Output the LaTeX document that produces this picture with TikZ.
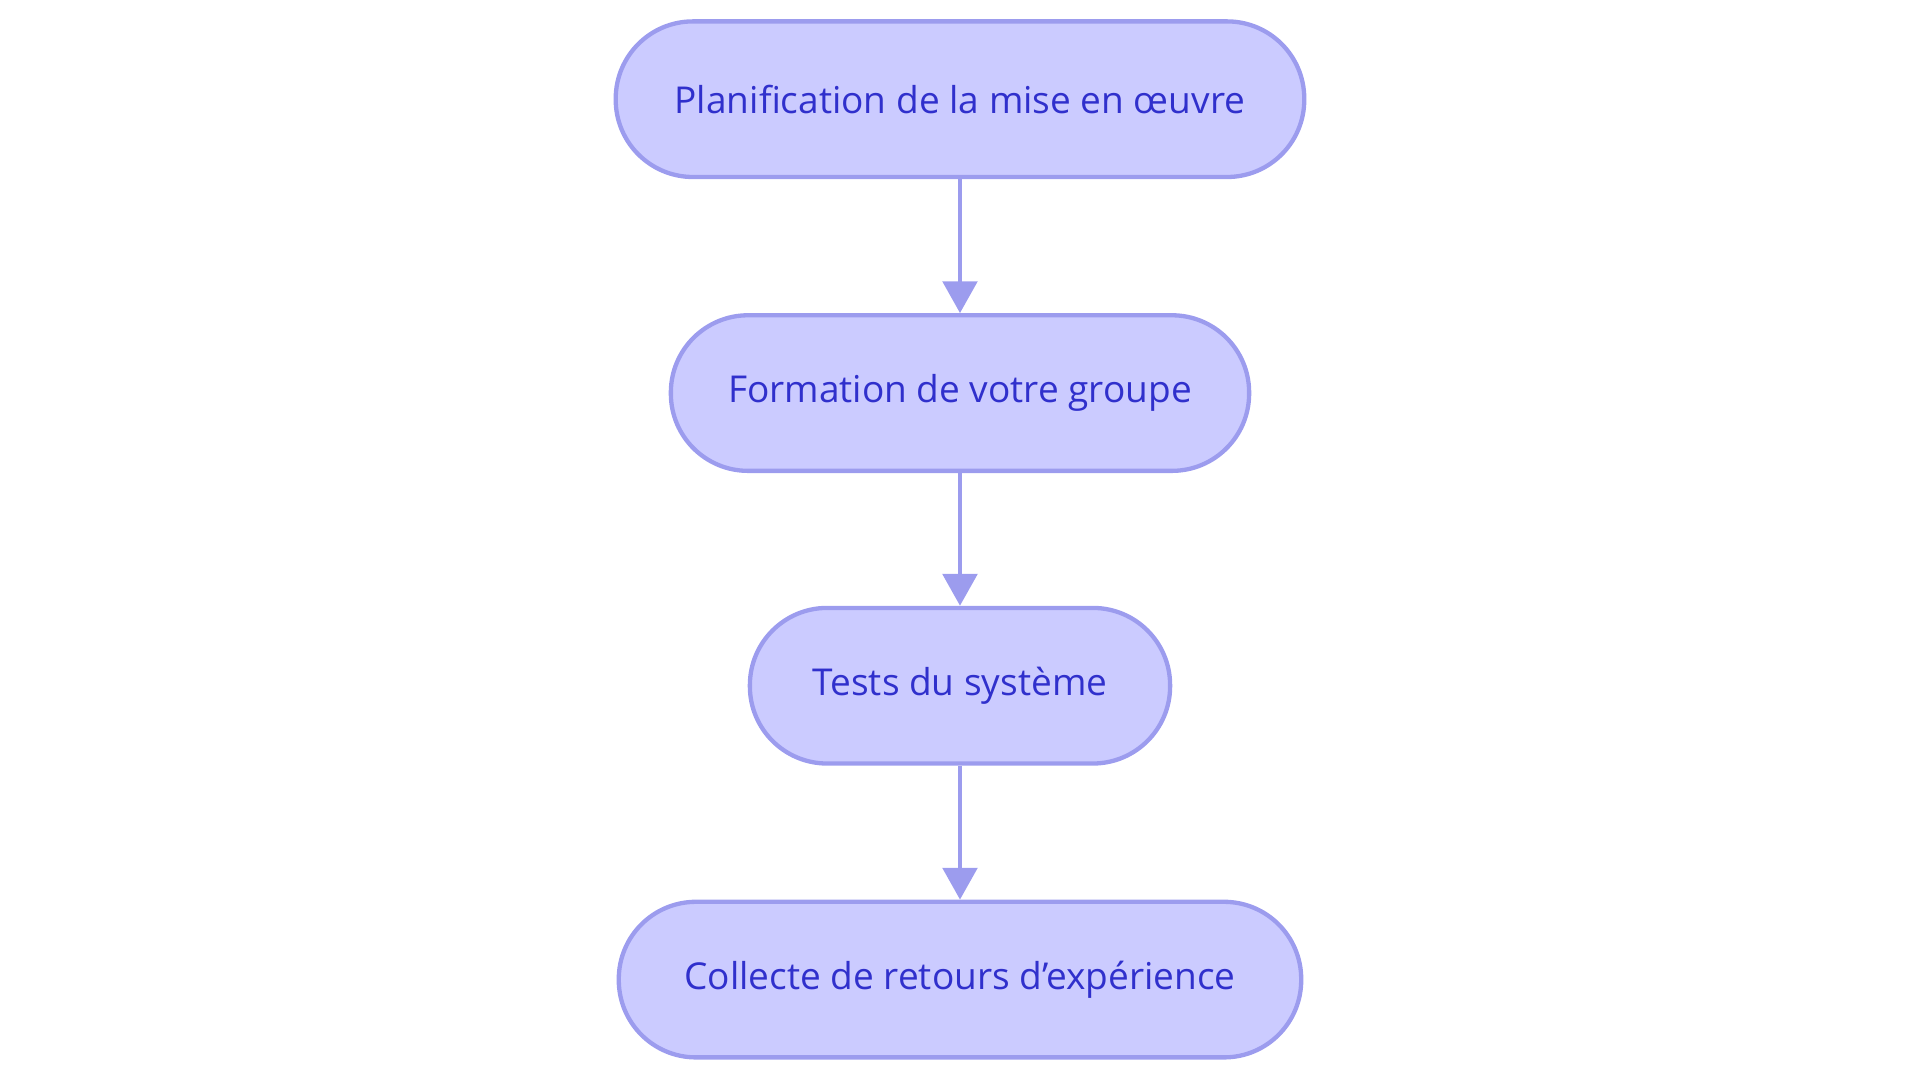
\documentclass[tikz,border=0pt]{standalone}
\usepackage{fontspec}
\setmainfont{Open Sans}
\usetikzlibrary{arrows.meta}
\definecolor{boxfill}{HTML}{CBCBFF}
\definecolor{boxdraw}{HTML}{9C9CEE}
\definecolor{txt}{HTML}{3030CC}
\begin{document}
\begin{tikzpicture}[x=0.01cm,y=-0.01cm,
  box/.style={draw=boxdraw,fill=boxfill,line width=1pt,rounded corners=0.63cm,
    minimum height=1.27cm,text=txt,font=\fontsize{8.6pt}{10pt}\selectfont,inner sep=0pt},
  arr/.style={draw=boxdraw,line width=1.1pt,-{Triangle[length=0.26cm,width=0.28cm]}}]
\useasboundingbox (0,0) rectangle (1568,884);
\node[box,minimum width=5.62cm] (a) at (784,81) {Planification de la mise en œuvre};
\node[box,minimum width=4.72cm] (b) at (784,321) {Formation de votre groupe};
\node[box,minimum width=3.43cm] (c) at (784,560) {Tests du système};
\node[box,minimum width=5.57cm] (d) at (784,800) {Collecte de retours d'expérience};
\draw[arr] (a) -- (b);
\draw[arr] (b) -- (c);
\draw[arr] (c) -- (d);
\end{tikzpicture}
\end{document}
